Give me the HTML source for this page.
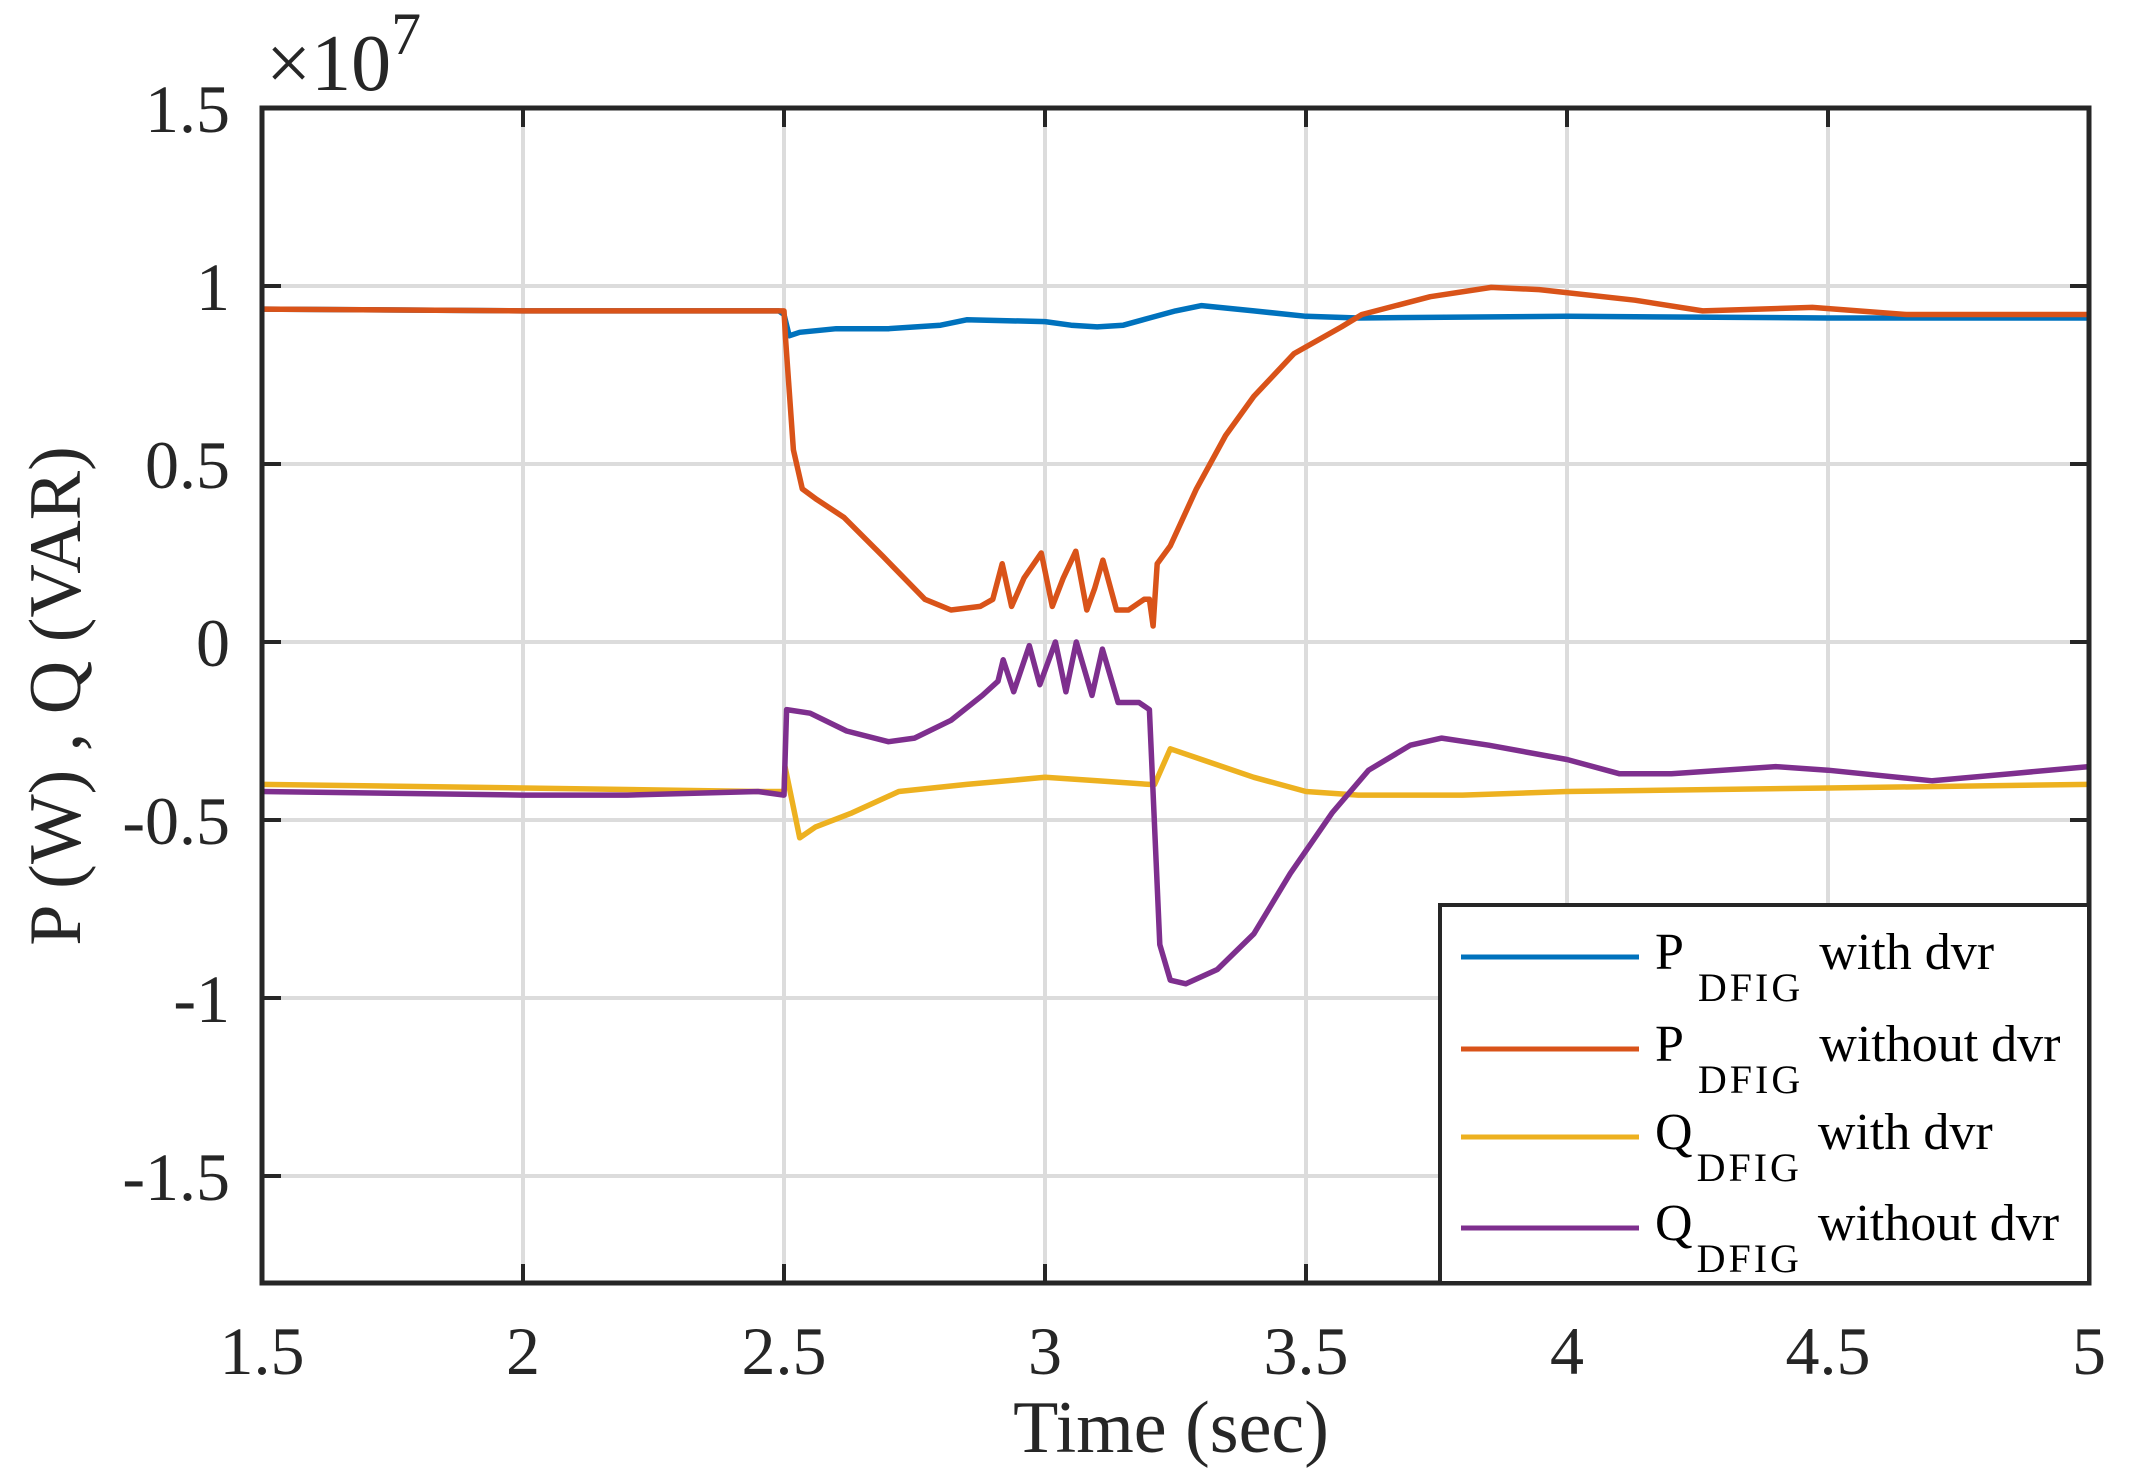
<!DOCTYPE html>
<html><head><meta charset="utf-8"><style>
html,body{margin:0;padding:0;background:#fff;}
svg{display:block;font-family:"Liberation Serif",serif;}
</style></head><body>
<svg id="chart" width="2134" height="1479" viewBox="0 0 2134 1479" xmlns="http://www.w3.org/2000/svg">
<rect width="2134" height="1479" fill="#fff"/>
<g id="grid"></g>
<g id="series"></g>
<g id="axes"></g>
<text x="266" y="90" font-size="80" fill="#262626">×10<tspan font-size="60" dy="-36">7</tspan></text>
<text x="1171" y="1452" font-size="74" text-anchor="middle" fill="#262626">Time (sec)</text>
<text transform="translate(80,696) rotate(-90)" font-size="74" text-anchor="middle" fill="#262626">P (W) , Q (VAR)</text>
<g id="legend">
<rect x="1440" y="905" width="649" height="378" fill="#fff" stroke="#262626" stroke-width="4"/>
</g>
</svg>
<script>
const xTicks=[1.5,2,2.5,3,3.5,4,4.5,5];
const yTicks=[1.5,1,0.5,0,-0.5,-1,-1.5];
const yTickLabels=["1.5","1","0.5","0","-0.5","-1","-1.5"];
const seriesNames=["P_DFIG with dvr","P_DFIG without dvr","Q_DFIG with dvr","Q_DFIG without dvr"];
const pWithT=[1.5,2.0,2.49,2.5,2.51,2.53,2.6,2.7,2.8,2.85,3.0,3.05,3.1,3.15,3.2,3.25,3.3,3.4,3.5,3.6,4.0,4.5,5.0];
const pWithV=[0.935,0.93,0.93,0.92,0.86,0.87,0.88,0.88,0.89,0.905,0.9,0.89,0.885,0.89,0.91,0.93,0.945,0.93,0.915,0.91,0.915,0.91,0.91];
const pWithoutT=[1.5,2.0,2.49,2.5,2.503,2.518,2.535,2.563,2.615,2.69,2.77,2.82,2.876,2.9,2.918,2.936,2.96,2.993,3.014,3.035,3.059,3.08,3.095,3.111,3.137,3.16,3.19,3.2,3.207,3.215,3.24,3.29,3.346,3.4,3.477,3.568,3.607,3.738,3.855,3.947,4.13,4.26,4.47,4.65,5.0];
const pWithoutV=[0.935,0.93,0.93,0.93,0.85,0.54,0.43,0.40,0.35,0.24,0.12,0.09,0.10,0.12,0.22,0.10,0.18,0.25,0.10,0.18,0.255,0.09,0.15,0.23,0.09,0.09,0.12,0.12,0.045,0.22,0.27,0.43,0.58,0.69,0.81,0.885,0.92,0.97,0.996,0.99,0.96,0.93,0.94,0.92,0.92];
const qWithT=[1.5,2.0,2.45,2.5,2.502,2.53,2.56,2.63,2.72,2.85,3.0,3.1,3.2,3.21,3.24,3.3,3.4,3.5,3.6,3.8,4.0,4.5,5.0];
const qWithV=[-0.40,-0.41,-0.42,-0.42,-0.35,-0.55,-0.52,-0.48,-0.42,-0.40,-0.38,-0.39,-0.40,-0.40,-0.30,-0.33,-0.38,-0.42,-0.43,-0.43,-0.42,-0.41,-0.40];
const qWithoutT=[1.5,2.0,2.2,2.45,2.5,2.505,2.55,2.62,2.7,2.75,2.82,2.88,2.91,2.92,2.94,2.97,2.99,3.02,3.04,3.06,3.09,3.11,3.14,3.18,3.2,3.22,3.24,3.27,3.33,3.4,3.47,3.55,3.62,3.7,3.76,3.85,4.0,4.1,4.2,4.4,4.5,4.7,4.85,5.0];
const qWithoutV=[-0.42,-0.43,-0.43,-0.42,-0.43,-0.19,-0.20,-0.25,-0.28,-0.27,-0.22,-0.15,-0.11,-0.05,-0.14,-0.01,-0.12,0.0,-0.14,0.0,-0.15,-0.02,-0.17,-0.17,-0.19,-0.85,-0.95,-0.96,-0.92,-0.82,-0.65,-0.48,-0.36,-0.29,-0.27,-0.29,-0.33,-0.37,-0.37,-0.35,-0.36,-0.39,-0.37,-0.35];
const colors=["#0072BD","#D95319","#EDB120","#7E2F8E"];
const NS="http://www.w3.org/2000/svg";
const L=262,R=2089,T=108,B=1283,xMin=1.5,xMax=5;
const yT=1.5, yTpx=108, yPer=356;
function sx(v){return L+(v-xMin)/(xMax-xMin)*(R-L);}
function sy(v){return yTpx+(yT-v)*yPer;}
function mk(tag,attrs,parent){const e=document.createElementNS(NS,tag);for(const k in attrs)e.setAttribute(k,attrs[k]);parent.appendChild(e);return e;}
const grid=document.getElementById('grid'),axes=document.getElementById('axes'),ser=document.getElementById('series');
xTicks.forEach((t,i)=>{
  const x=sx(t);
  if(i>0&&i<xTicks.length-1){const g=mk('line',{x1:x,x2:x,y1:T,y2:B,stroke:'#dcdcdc','stroke-width':4},grid);
  
  }
  const tk=mk('path',{d:`M${x},${B}v-19M${x},${T}v19`,stroke:'#262626','stroke-width':4},axes);
  
  
  const lb=mk('text',{x:x,y:1374,'font-size':68,'text-anchor':'middle',fill:'#262626'},axes);
  lb.textContent=String(t);
  
  
});
yTicks.forEach((t,i)=>{
  const y=sy(t);
  if(i>0){const g=mk('line',{x1:L,x2:R,y1:y,y2:y,stroke:'#dcdcdc','stroke-width':4},grid);
  
  }
  const tk=mk('path',{d:`M${L},${y}h19M${R},${y}h-19`,stroke:'#262626','stroke-width':4},axes);
  
  
  const lb=mk('text',{x:230,y:y+24,'font-size':68,'text-anchor':'end',fill:'#262626'},axes);
  lb.textContent=yTickLabels[i];
  
  
});
const frame=mk('rect',{x:L,y:T,width:R-L,height:B-T,fill:'none',stroke:'#262626','stroke-width':5},axes);


const data=[[pWithT,pWithV],[pWithoutT,pWithoutV],[qWithT,qWithV],[qWithoutT,qWithoutV]];
const lineNames=['p-with-dvr-line','p-without-dvr-line','q-with-dvr-line','q-without-dvr-line'];
const order=[0,2,3,1];
order.forEach(i=>{
  const [ts,vs]=data[i];
  const pts=ts.map((t,j)=>sx(t).toFixed(1)+','+sy(vs[j]).toFixed(1)).join(' ');
  const pl=mk('polyline',{points:pts,fill:'none',stroke:colors[i],'stroke-width':5.5,'stroke-linejoin':'round'},ser);
  
  
});
const leg=document.getElementById('legend');
const legY=[957,1049,1137,1228];
const legSym=['P','P','Q','Q'];
const legTxt=['with dvr','without dvr','with dvr','without dvr'];
legY.forEach((y,i)=>{
  const ln=mk('line',{x1:1461,x2:1639,y1:y,y2:y,stroke:colors[i],'stroke-width':5},leg);
  
  
  const tx=mk('text',{x:1655,y:y+12,'font-size':52,fill:'#000'},leg);
  
  
  const sub=legSym[i]==='Q'?1:0;
  tx.innerHTML=`${legSym[i]}<tspan font-size="40" dx="${sub?4:14}" dy="32" letter-spacing="3">DFIG</tspan><tspan dx="16" dy="-32">${legTxt[i]}</tspan>`;
});
</script>
</body></html>
